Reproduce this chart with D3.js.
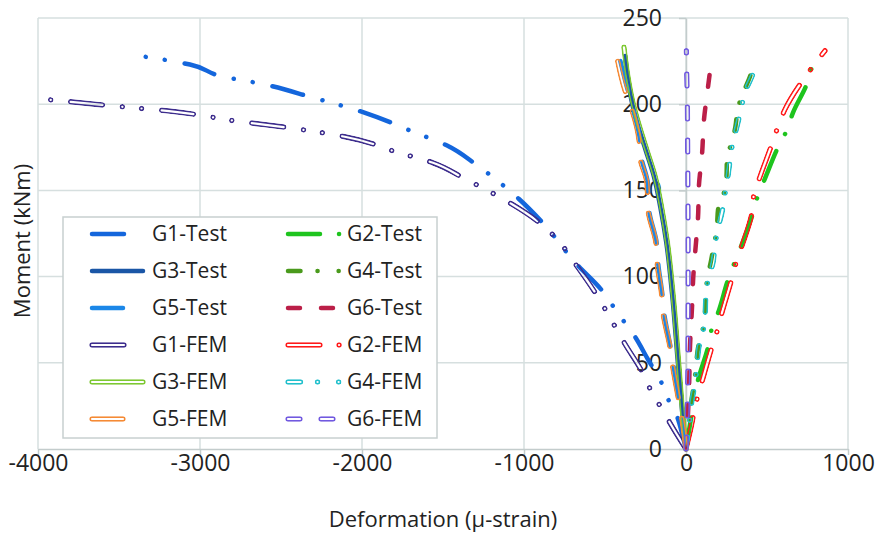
<!DOCTYPE html>
<html>
<head>
<meta charset="utf-8">
<script src="https://cdn.jsdelivr.net/npm/d3@7"></script>
<style>
body { margin: 0; background: #fff; }
text { font-family: "Open Sans", sans-serif; fill: #222; }
</style>
</head>
<body>
<div id="chart"></div>
<script>
// ticks
var xTicks = [-4000, -3000, -2000, -1000, 0, 1000]
var yTicks = [0, 50, 100, 150, 200, 250]

// [deformation, moment]
var g1Test = [[0,0],[-19,7],[-56,19],[-111,29],[-154,39],[-235,52],[-321,66],[-383,74],[-451,83],[-519,92],[-673,107],[-883,131],[-1031,145],[-1117,152],[-1296,165],[-1475,176],[-1685,184],[-1981,195],[-2309,204],[-2630,212],[-2858,216],[-3062,223],[-3444,229]]
var g2Test = [[0,0],[35,20],[74,40],[136,59],[160,70],[198,79],[259,98],[346,119],[414,137],[444,147],[488,157],[568,175],[623,185],[660,195],[747,212],[778,222]]
var g3Test = [[0,0],[-22,20],[-50,50],[-86,90],[-122,120],[-158,140],[-198,158],[-248,173],[-298,188],[-336,202],[-362,217],[-375,228]]
var g4Test = [[0,0],[18,14],[33,28],[50,38],[62,48],[75,59],[100,68],[117,79],[120,88],[130,98],[154,109],[172,118],[190,128],[198,139],[232,148],[250,158],[253,169],[283,178],[305,187],[321,198],[355,207],[395,216],[425,226]]
var g5Test = [[0,0],[-22,17],[-45,30],[-80,50],[-95,59],[-135,79],[-145,89],[-172,108],[-180,119],[-228,139],[-235,154],[-275,169],[-283,179],[-335,200],[-365,210],[-405,225]]
var g6Test = [[0,0],[12,20],[20,40],[25,60],[37,82],[45,100],[62,120],[74,134],[80,153],[99,171],[111,191],[136,210],[148,219]]

var g1Fem = [[0,0],[-60,9],[-111,17],[-167,26],[-222,35],[-272,45],[-377,61],[-438,71],[-549,89],[-673,106],[-809,123],[-901,131],[-1074,142],[-1167,147],[-1370,157],[-1562,166],[-1778,172],[-2099,181],[-2426,186],[-2759,190],[-3191,196],[-3537,199],[-3975,203]]
var g2Fem = [[0,0],[30,12],[68,29],[99,39],[160,59],[191,68],[222,79],[284,99],[309,108],[346,118],[407,137],[420,148],[457,158],[531,177],[568,187],[611,197],[722,214],[784,222],[858,231]]
var g3Fem = [[0,0],[-20,20],[-45,50],[-80,90],[-115,120],[-150,140],[-190,158],[-240,173],[-290,188],[-330,202],[-360,217],[-383,233]]
var g4Fem = [[0,0],[20,14],[37,28],[56,38],[68,48],[80,59],[105,68],[118,78],[123,88],[136,98],[167,108],[179,118],[198,128],[222,137],[241,148],[259,158],[272,167],[290,178],[315,187],[340,197],[364,207],[407,216],[438,225]]
var g5Fem = [[0,0],[-25,17],[-49,30],[-86,50],[-99,59],[-142,79],[-150,89],[-179,108],[-185,119],[-235,139],[-241,154],[-284,169],[-290,179],[-346,200],[-377,208],[-426,227]]
var g6Fem = [[0,0],[8,25],[12,50],[13,100],[12,150],[8,200],[2,231]]

var seriesNames = ['G1-Test','G2-Test','G3-Test','G4-Test','G5-Test','G6-Test','G1-FEM','G2-FEM','G3-FEM','G4-FEM','G5-FEM','G6-FEM']
var seriesValues = [g1Test, g2Test, g3Test, g4Test, g5Test, g6Test, g1Fem, g2Fem, g3Fem, g4Fem, g5Fem, g6Fem]

// line looks
var lgDashDotDot = '32,20,0.1,19,0.1,20'
var lgDashDot = '32,19,0.1,19'
var dashDot = '12,17,0.1,17'
var dash = '12,21'
var lgDash = '31,21'
var styles = {
  'G1-Test': {color: '#1466dc', dash: lgDashDotDot},
  'G2-Test': {color: '#1ec41e', dash: lgDashDot},
  'G3-Test': {color: '#1a56a6', dash: null},
  'G4-Test': {color: '#4a9a1c', dash: dashDot, legendDash: '12.5,17,0.1,21,0.1,40'},
  'G5-Test': {color: '#1b87e8', dash: lgDash},
  'G6-Test': {color: '#bb1f48', dash: dash},
  'G1-FEM': {color: '#3d2d8d', dash: lgDashDotDot, hollow: true},
  'G2-FEM': {color: '#ff1a1a', dash: lgDashDot, hollow: true},
  'G3-FEM': {color: '#7dc832', dash: null, hollow: true},
  'G4-FEM': {color: '#22c0cc', dash: dashDot, hollow: true, legendDash: '12.5,17,0.1,21,0.1,40'},
  'G5-FEM': {color: '#f58a35', dash: lgDash, hollow: true},
  'G6-FEM': {color: '#7159e0', dash: dash, hollow: true}
}

var W = 877, H = 534
var svg = d3.select('#chart').append('svg').attr('width', W).attr('height', H)
var defs = svg.append('defs')

var x = d3.scaleLinear().domain([-4000, 1000]).range([38, 848])
var y = d3.scaleLinear().domain([0, 250]).range([449, 18])

var gridColor = '#d6dfdf'

// grid
svg.append('g').selectAll('line').data(yTicks.filter(d => d > 0)).join('line')
  .attr('x1', x(-4000)).attr('x2', x(1000))
  .attr('y1', d => y(d)).attr('y2', d => y(d))
  .attr('stroke', gridColor).attr('stroke-width', 1.5)
svg.append('g').selectAll('line').data(xTicks).join('line')
  .attr('x1', d => x(d)).attr('x2', d => x(d))
  .attr('y1', y(0)).attr('y2', y(250))
  .attr('stroke', gridColor).attr('stroke-width', 1.5)

// axes
var xAxis = svg.append('g').attr('transform', 'translate(0,' + y(0) + ')')
  .call(d3.axisBottom(x).tickValues(xTicks).tickSize(6).tickSizeOuter(0).tickPadding(0).tickFormat(d => String(d)))
var yAxis = svg.append('g').attr('transform', 'translate(' + x(0) + ',0)')
  .call(d3.axisLeft(y).tickValues(yTicks).tickSize(7).tickSizeOuter(0).tickPadding(17))
;[xAxis, yAxis].forEach(function(a){
  a.selectAll('path,line').attr('stroke', '#c3cccc').attr('stroke-width', 1.5)
  a.selectAll('text').attr('font-size', 23).attr('font-family', '"Open Sans", sans-serif').attr('fill', '#1a1a1a')
})

var line = d3.line().curve(d3.curveMonotoneY).x(d => x(d[0])).y(d => y(d[1]))

var maskId = 0
function strokeIt(g, d, st, dashArr, w){
  var p = g.append('path').attr('d', d).attr('fill', 'none')
    .attr('stroke', st.color).attr('stroke-width', w)
    .attr('stroke-linecap', 'round').attr('stroke-linejoin', 'round')
  if (dashArr) p.attr('stroke-dasharray', dashArr)
  if (st.hollow){
    var id = 'm' + (maskId++)
    var m = defs.append('mask').attr('id', id).attr('maskUnits', 'userSpaceOnUse')
      .attr('x', 0).attr('y', 0).attr('width', W).attr('height', H)
    ;[['#fff', w], ['#000', 2.2]].forEach(function(s){
      var mp = m.append('path').attr('d', d).attr('fill', 'none')
        .attr('stroke', s[0]).attr('stroke-width', s[1])
        .attr('stroke-linecap', 'round').attr('stroke-linejoin', 'round')
      if (dashArr) mp.attr('stroke-dasharray', dashArr)
    })
    p.attr('mask', 'url(#' + id + ')')
  }
}

var plot = svg.append('g')
seriesNames.forEach(function(name, i){
  var st = styles[name]
  strokeIt(plot, line(seriesValues[i]), st, st.dash, st.hollow ? 5.5 : 4.5)
})

// legend
var lg = svg.append('g')
lg.append('rect').attr('x', 63).attr('y', 217).attr('width', 374).attr('height', 221)
  .attr('fill', '#fff').attr('stroke', '#c8d0d0').attr('stroke-width', 1.5)
seriesNames.forEach(function(name, i){
  var st = styles[name]
  var col = i % 2, row = Math.floor(i / 2)
  var yy = 234 + row * 37
  var x0 = col ? 288 : 92, x1 = col ? 339.6 : 143
  strokeIt(lg, 'M' + x0 + ',' + yy + 'H' + x1, st, st.legendDash || st.dash, st.hollow ? 5.5 : 4.5)
  lg.append('text').attr('x', col ? 347 : 152).attr('y', yy).attr('dy', '0.35em')
    .attr('font-size', 21).text(name)
})

// titles
svg.append('text').attr('x', 443).attr('y', 519).attr('dy', '0.35em')
  .attr('text-anchor', 'middle').attr('font-size', 22).text('Deformation (μ-strain)')
svg.append('text').attr('transform', 'translate(22,241) rotate(-90)').attr('dy', '0.35em')
  .attr('text-anchor', 'middle').attr('font-size', 22).text('Moment (kNm)')
</script>
</body>
</html>
